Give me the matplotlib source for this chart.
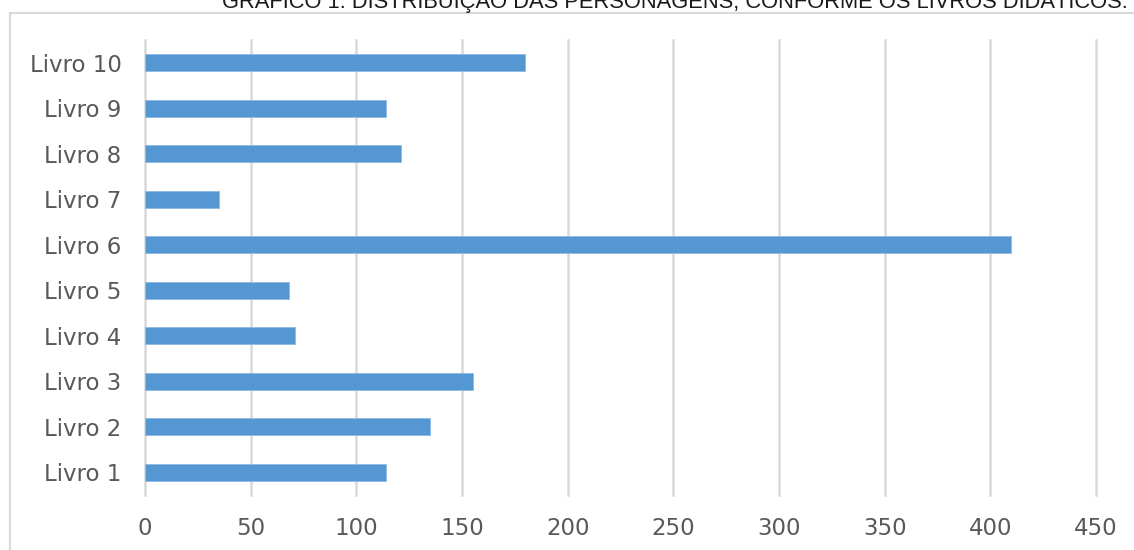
import matplotlib
matplotlib.use("Agg")
import matplotlib.pyplot as plt
from matplotlib.patches import Rectangle

categories = ["Livro 1", "Livro 2", "Livro 3", "Livro 4", "Livro 5",
              "Livro 6", "Livro 7", "Livro 8", "Livro 9", "Livro 10"]
values = [114, 135, 155, 71, 68, 410, 35, 121, 114, 180]
xticks = [0, 50, 100, 150, 200, 250, 300, 350, 400, 450]
title = "GRÁFICO 1: DISTRIBUIÇÃO DAS PERSONAGENS, CONFORME OS LIVROS DIDÁTICOS."

W, H = 1134, 550
fig = plt.figure(figsize=(W / 100, H / 100), dpi=100)
fig.patch.set_facecolor("white")

# chart-area frame (partly cropped)
fig.patches.append(Rectangle((10 / W, -0.05), 1.1, 1 - 13 / H + 0.05,
                             transform=fig.transFigure, fill=False,
                             edgecolor="#D9D9D9", linewidth=1.5))

ax = fig.add_axes([145 / W, 1 - 495 / H, (1096 - 145) / W, (495 - 40) / H])
ypos = list(range(len(categories)))
ax.barh(ypos, values, height=0.37, color="#5597D3",
        edgecolor="#8DBBE5", linewidth=0.6, zorder=3)
ax.set_xlim(0, 450)
ax.set_ylim(-0.5, len(categories) - 0.5)
ax.set_xticks(xticks)
ax.set_xticklabels([str(t) for t in xticks])
ax.set_yticks(ypos)
ax.set_yticklabels(categories)
ax.grid(axis="x", color="#D9D9D9", linewidth=1.8, zorder=0)
ax.grid(axis="y", visible=False)
for gl in ax.get_xgridlines():
    gl.set_clip_on(False)
for s in ax.spines.values():
    s.set_visible(False)
ax.tick_params(axis="both", length=0, labelsize=16.5, labelcolor="#595959")
ax.tick_params(axis="x", pad=16)
ax.tick_params(axis="y", pad=17)
ax.set_facecolor("none")

# title, cropped at the top of the image as in the reference
t = fig.text(675 / W, 1 - 8 / H, title, ha="center", va="baseline",
             fontsize=20, color="#1a1a1a",
             family=["Liberation Sans Narrow", "Liberation Sans", "DejaVu Sans"])
fig.canvas.draw()
bb = t.get_window_extent()
t.set_fontsize(20 * 906 / bb.width)

fig.savefig("out.png", dpi=100, facecolor="white")
